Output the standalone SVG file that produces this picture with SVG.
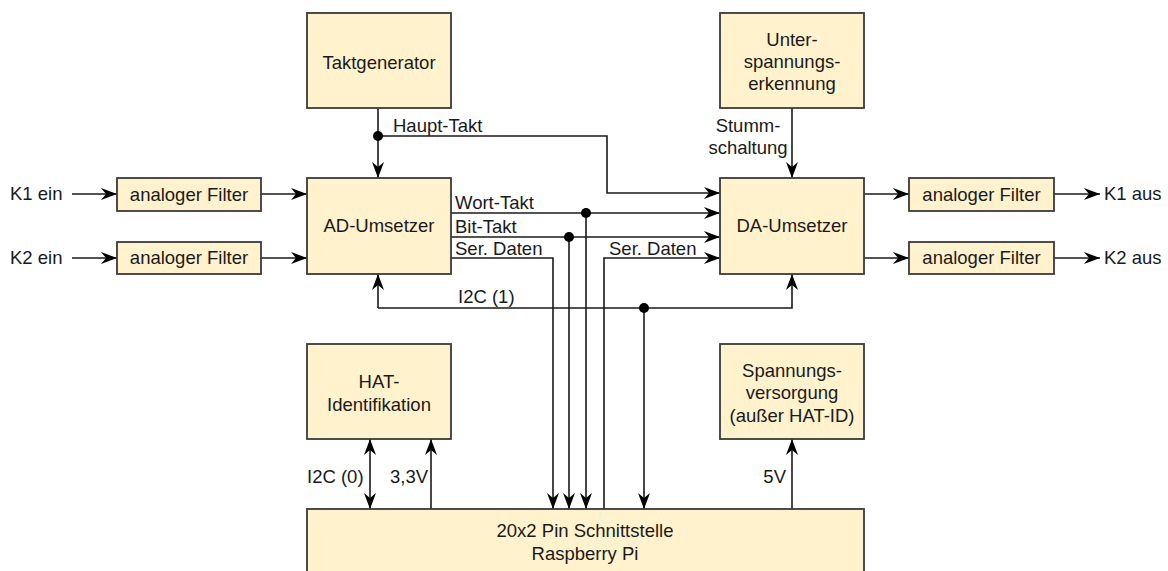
<svg xmlns="http://www.w3.org/2000/svg" width="1168" height="571" viewBox="0 0 1168 571">
<defs>
<style>
.box{fill:#fff2cc;stroke:#3a3a3a;stroke-width:1.8}
.t{font-family:"Liberation Sans",Arial,sans-serif;font-size:18.5px;fill:#1a1a1a}
.c{text-anchor:middle}
.ln{fill:none;stroke:#1a1a1a;stroke-width:1.6}
.arr{marker-end:url(#ah)}
.dot{fill:#000}
</style>
<marker id="ah" viewBox="0 0 16 12" refX="16" refY="6" markerWidth="16" markerHeight="12" orient="auto-start-reverse" markerUnits="userSpaceOnUse">
<path d="M0,0 L16,6 L0,12 L5,6 z" fill="#000"/>
</marker>
</defs>
<rect width="1168" height="571" fill="#fff"/>

<g id="connectors">
<path class="ln arr" d="M72,194 H117"/>
<path class="ln arr" d="M72,258 H117"/>
<path class="ln arr" d="M261,194 H307"/>
<path class="ln arr" d="M261,258 H307"/>
<path class="ln arr" d="M378,108 V178"/>
<path class="ln arr" d="M378,136 H607 V193 H720"/>
<path class="ln arr" d="M451,213 H720"/>
<path class="ln arr" d="M586,213 V509"/>
<path class="ln arr" d="M451,237 H720"/>
<path class="ln arr" d="M569,237 V509"/>
<path class="ln arr" d="M451,258 H553 V509"/>
<path class="ln arr" d="M604,509 V258 H720"/>
<path class="ln arr" d="M792,108 V178"/>
<path class="ln arr" d="M864,194 H909"/>
<path class="ln arr" d="M864,258 H909"/>
<path class="ln arr" d="M1054,194 H1100"/>
<path class="ln arr" d="M1054,258 H1100"/>
<path class="ln arr" d="M378,308 V274" />
<path class="ln arr" d="M378,308 H792 V274"/>
<path class="ln arr" d="M644,308 V509"/>
<path class="ln arr" d="M370,474 V439"/>
<path class="ln arr" d="M370,474 V509"/>
<path class="ln arr" d="M431,509 V439"/>
<path class="ln arr" d="M792,509 V439"/>
<circle class="dot" cx="378" cy="136" r="5"/>
<circle class="dot" cx="586" cy="213" r="5"/>
<circle class="dot" cx="569" cy="237" r="5"/>
<circle class="dot" cx="644" cy="308" r="5"/>
<text class="t" x="393" y="132">Haupt-Takt</text>
<text class="t" x="455" y="209">Wort-Takt</text>
<text class="t" x="455" y="233">Bit-Takt</text>
<text class="t" x="455" y="255">Ser. Daten</text>
<text class="t" x="609" y="255">Ser. Daten</text>
<text class="t" x="458" y="303">I2C (1)</text>
<text class="t c" x="748" y="132">Stumm-</text>
<text class="t c" x="748" y="154">schaltung</text>
<text class="t" x="307" y="483">I2C (0)</text>
<text class="t" x="390" y="483">3,3V</text>
<text class="t" x="786" y="483" text-anchor="end">5V</text>
<text class="t" x="10" y="200">K1 ein</text>
<text class="t" x="10" y="264">K2 ein</text>
<text class="t" x="1104" y="200">K1 aus</text>
<text class="t" x="1104" y="264">K2 aus</text>
</g>

<g id="taktgenerator">
<rect class="box" x="307" y="13" width="144" height="95"/>
<text class="t c" x="379" y="69">Taktgenerator</text>
</g>
<g id="unterspannung">
<rect class="box" x="720" y="13" width="144" height="95"/>
<text class="t c" x="792" y="46">Unter-</text>
<text class="t c" x="792" y="68">spannungs-</text>
<text class="t c" x="792" y="90">erkennung</text>
</g>
<g id="filter-k1-ein">
<rect class="box" x="117" y="178" width="144" height="33"/>
<text class="t c" x="189" y="201">analoger Filter</text>
</g>
<g id="filter-k2-ein">
<rect class="box" x="117" y="242" width="144" height="32"/>
<text class="t c" x="189" y="264">analoger Filter</text>
</g>
<g id="ad-umsetzer">
<rect class="box" x="307" y="178" width="144" height="96"/>
<text class="t c" x="379" y="232">AD-Umsetzer</text>
</g>
<g id="da-umsetzer">
<rect class="box" x="720" y="178" width="144" height="96"/>
<text class="t c" x="792" y="232">DA-Umsetzer</text>
</g>
<g id="filter-k1-aus">
<rect class="box" x="909" y="178" width="145" height="33"/>
<text class="t c" x="981.5" y="201">analoger Filter</text>
</g>
<g id="filter-k2-aus">
<rect class="box" x="909" y="242" width="145" height="32"/>
<text class="t c" x="981.5" y="264">analoger Filter</text>
</g>
<g id="hat-id">
<rect class="box" x="307" y="344" width="144" height="95"/>
<text class="t c" x="379" y="388">HAT-</text>
<text class="t c" x="379" y="411">Identifikation</text>
</g>
<g id="spannungsversorgung">
<rect class="box" x="720" y="344" width="144" height="95"/>
<text class="t c" x="792" y="377">Spannungs-</text>
<text class="t c" x="792" y="399">versorgung</text>
<text class="t c" x="792" y="422">(außer HAT-ID)</text>
</g>
<g id="raspberry-pi">
<rect class="box" x="307" y="509" width="557" height="80"/>
<text class="t c" x="585" y="537">20x2 Pin Schnittstelle</text>
<text class="t c" x="585" y="560">Raspberry Pi</text>
</g>
</svg>
